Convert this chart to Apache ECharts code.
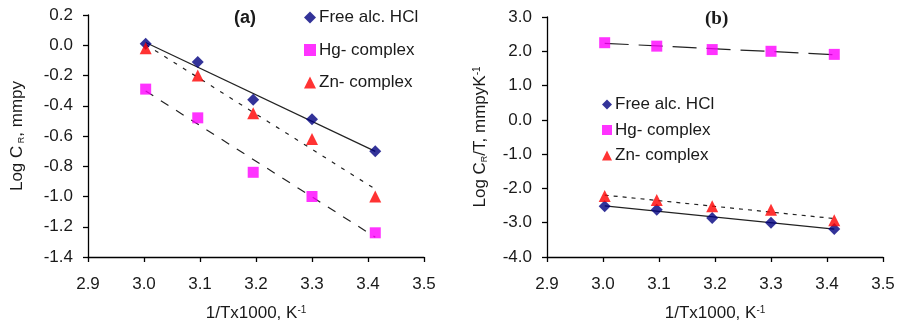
<!DOCTYPE html>
<html><head><meta charset="utf-8">
<script src="https://cdn.jsdelivr.net/npm/echarts@6/dist/echarts.min.js"></script>
<style>html,body{margin:0;padding:0;background:#fff}#c{width:900px;height:327px}</style>
</head><body><div id="c"></div>
<script>
// x: 1/T x 1000 (K^-1)
var invT = [3.003, 3.096, 3.195, 3.300, 3.413];
// Panel (a): Log C_R, mmpy
var aFree = [0.01, -0.11, -0.36, -0.49, -0.70];
var aHg   = [-0.29, -0.48, -0.84, -1.00, -1.24];
var aZn   = [-0.02, -0.20, -0.45, -0.62, -1.00];
// Panel (b): Log C_R/T, mmpyK^-1
var bFree = [-2.52, -2.62, -2.86, -3.00, -3.18];
var bHg   = [2.25, 2.15, 2.05, 2.00, 1.91];
var bZn   = [-2.22, -2.34, -2.52, -2.62, -2.93];
var names = ['Free alc. HCl', 'Hg- complex', 'Zn- complex'];

function pairs(ys){ return invT.map(function(x,i){ return [x, ys[i]]; }); }
function fit(ys){
  var n=invT.length, mx=0, my=0, sxy=0, sxx=0;
  for (var i=0;i<n;i++){ mx+=invT[i]; my+=ys[i]; }
  mx/=n; my/=n;
  for (var i=0;i<n;i++){ sxy+=(invT[i]-mx)*(ys[i]-my); sxx+=(invT[i]-mx)*(invT[i]-mx); }
  var b=sxy/sxx, a=my-b*mx;
  var x0=invT[0], x1=invT[n-1];
  return [[x0, a+b*x0],[x1, a+b*x1]];
}
var FONT = '"Liberation Sans", Arial, sans-serif';
var colors = ['#000080', '#FF00FF', '#FF0000'];
var symbols = ['diamond', 'rect', 'triangle'];
var sizes = [12, 11, 12];
var TXT = '#1a1a1a';

function xAxis(gi){
  return {
    gridIndex: gi, type: 'value', min: 2.9, max: 3.5, interval: 0.1,
    name: '{a|1/Tx1000, K}{s|-1}', nameLocation: 'middle', nameGap: 48,
    nameTextStyle: {rich: {a: {fontFamily: FONT, fontSize: 17, color: TXT}, s: {fontFamily: FONT, fontSize: 10, color: TXT, verticalAlign: 'top'}}},
    axisLine: {onZero: false, lineStyle: {color: '#000', width: 1.3}},
    axisTick: {inside: false, length: 5, lineStyle: {color: '#000', width: 1.3}},
    axisLabel: {fontFamily: FONT, fontSize: 17, color: TXT, margin: 19, formatter: function(v){ return v.toFixed(1); }},
    splitLine: {show: false}
  };
}
function yAxis(gi, min, max, interval, name, gap){
  return {
    gridIndex: gi, type: 'value', min: min, max: max, interval: interval,
    name: name, nameLocation: 'middle', nameGap: gap, nameRotate: 90,
    nameTextStyle: {rich: {a: {fontFamily: FONT, fontSize: 17, color: TXT}, s: {fontFamily: FONT, fontSize: 9, color: TXT, verticalAlign: 'bottom'}, t: {fontFamily: FONT, fontSize: 10, color: TXT, verticalAlign: 'top'}}},
    axisLine: {show: true, onZero: false, lineStyle: {color: '#000', width: 1.3}},
    axisTick: {show: true, inside: false, length: 5, lineStyle: {color: '#000', width: 1.3}},
    axisLabel: {fontFamily: FONT, fontSize: 17, color: TXT, margin: 15, formatter: function(v){ return v.toFixed(1); }},
    splitLine: {show: false}
  };
}
var series = [];
function addPanel(gi, data, dashes){
  data.forEach(function(ys, k){
    series.push({
      type: 'line', xAxisIndex: gi, yAxisIndex: gi, data: fit(ys), symbol: 'none', silent: true,
      lineStyle: {color: '#222', width: 1.2, type: dashes[k]}, z: 1
    });
  });
  data.forEach(function(ys, k){
    series.push({
      name: names[k], type: 'scatter', xAxisIndex: gi, yAxisIndex: gi, data: pairs(ys),
      symbol: symbols[k], symbolSize: sizes[k], itemStyle: {color: colors[k]}, z: 3
    });
  });
}
addPanel(0, [aFree, aHg, aZn], ['solid', [9,9], [4,7]]);
addPanel(1, [bFree, bHg, bZn], ['solid', [24,10], [4,5]]);

var legendData = names.map(function(n,i){return {name: n, icon: symbols[i]};});
var chart = echarts.init(document.getElementById('c'), null, {renderer: 'canvas'});
chart.setOption({
  animation: false,
  backgroundColor: '#fff',
  grid: [
    {left: 88, top: 15, width: 336, height: 243},
    {left: 547, top: 17, width: 336, height: 240}
  ],
  xAxis: [xAxis(0), xAxis(1)],
  yAxis: [
    yAxis(0, -1.4, 0.2, 0.2, '{a|Log C}{s| R}{a|, mmpy}', 62),
    yAxis(1, -4, 3, 1, '{a|Log C}{s|R}{a|/T, mmpyK}{t|-1}', 58)
  ],
  title: [
    {text: '(a)', left: 234, top: 9, padding: 0, textStyle: {fontFamily: FONT, fontSize: 18, fontWeight: 'bold', color: TXT}},
    {text: '(b)', left: 705, top: 10, padding: 0, textStyle: {fontFamily: '"Liberation Serif", "Times New Roman", serif', fontSize: 19, fontWeight: 'bold', color: TXT}}
  ],
  legend: [
    {data: legendData, left: 304, top: 9, padding: 0, orient: 'vertical', itemWidth: 12, itemHeight: 12, itemGap: 15.5,
     textStyle: {fontFamily: FONT, fontSize: 17, color: TXT, padding: [0,0,0,-2]}, selectedMode: false},
    {data: legendData, left: 602, top: 96, padding: 0, orient: 'vertical', itemWidth: 10, itemHeight: 10, itemGap: 8.5,
     textStyle: {fontFamily: FONT, fontSize: 17, color: TXT, padding: [0,0,0,-2]}, selectedMode: false}
  ],
  series: series
});
</script></body></html>
